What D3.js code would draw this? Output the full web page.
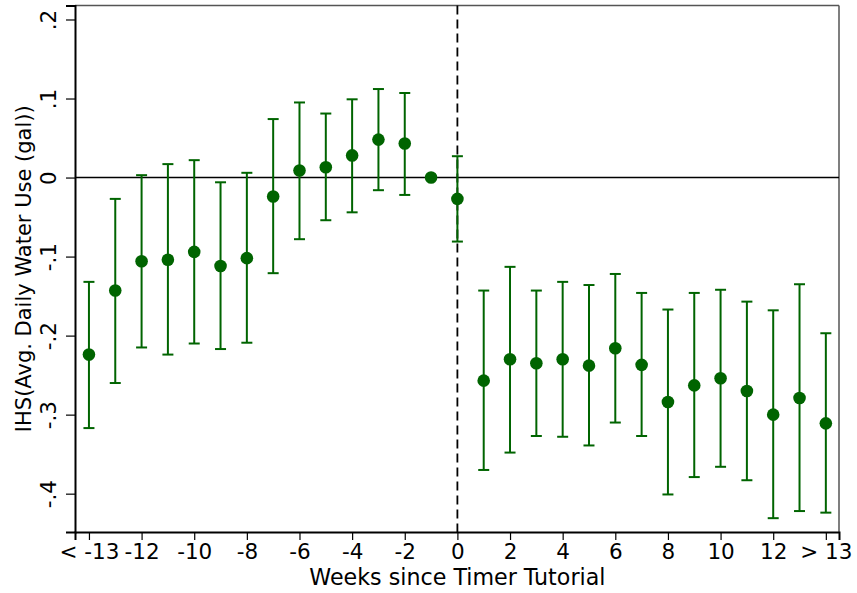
<!DOCTYPE html>
<html>
<head>
<meta charset="utf-8">
<script src="https://cdn.jsdelivr.net/npm/d3@7"></script>
<style>
	body { margin: 0; background: #fff; }
	text { font-family: "DejaVu Sans", sans-serif; fill: #000; }
</style>
</head>
<body>
<div id="chart"></div>
<script>
// event-study estimates
const weeks = [-14, -13, -12, -11, -10, -9, -8, -7, -6, -5, -4, -3, -2, -1, 0,
	1, 2, 3, 4, 5, 6, 7, 8, 9, 10, 11, 12, 13, 14];
const estimates = [-0.224, -0.143, -0.106, -0.104, -0.094, -0.112, -0.102, -0.024, 0.009, 0.013, 0.028, 0.048, 0.043, 0, -0.027,
	-0.257, -0.230, -0.235, -0.230, -0.238, -0.216, -0.237, -0.284, -0.263, -0.254, -0.270, -0.300, -0.279, -0.311];
const ciHigh = [-0.132, -0.027, 0.003, 0.017, 0.022, -0.006, 0.006, 0.074, 0.095, 0.081, 0.099, 0.112, 0.107, null, 0.027,
	-0.143, -0.113, -0.143, -0.132, -0.136, -0.122, -0.146, -0.167, -0.146, -0.142, -0.157, -0.168, -0.135, -0.197];
const ciLow = [-0.317, -0.260, -0.215, -0.224, -0.210, -0.217, -0.209, -0.121, -0.078, -0.054, -0.044, -0.016, -0.022, null, -0.081,
	-0.370, -0.348, -0.327, -0.328, -0.339, -0.310, -0.327, -0.401, -0.379, -0.366, -0.383, -0.431, -0.422, -0.424];

const xTicks = [-14, -12, -10, -8, -6, -4, -2, 0, 2, 4, 6, 8, 10, 12, 14];
const xTickLabels = ['< -13', '-12', '-10', '-8', '-6', '-4', '-2', '0', '2', '4', '6', '8', '10', '12', '> 13'];
const yTicks = [0.2, 0.1, 0, -0.1, -0.2, -0.3, -0.4];
const yTickLabels = ['.2', '.1', '0', '-.1', '-.2', '-.3', '-.4'];

const width = 857, height = 593;
const margin = {top: 5.5, right: 18, bottom: 61, left: 75};
const plotWidth = width - margin.left - margin.right;
const plotHeight = height - margin.top - margin.bottom;
const green = '#006400';
const tickFont = 21.5;
const titleFont = 22.2;

const svg = d3.select('#chart').append('svg')
	.attr('width', width)
	.attr('height', height);

const g = svg.append('g')
	.attr('transform', `translate(${margin.left}, ${margin.top})`);

const x = d3.scaleLinear().domain([-14.53, 14.5]).range([0, plotWidth]);
const y = d3.scaleLinear().domain([0.2177, -0.4485]).range([0, plotHeight]);

// frame (top/right lighter)
g.append('line')
	.attr('x1', 0).attr('x2', plotWidth).attr('y1', 0).attr('y2', 0)
	.attr('stroke', '#555').attr('stroke-width', 1.5);
g.append('line')
	.attr('x1', plotWidth).attr('x2', plotWidth).attr('y1', 0).attr('y2', plotHeight)
	.attr('stroke', '#555').attr('stroke-width', 1.5);

// reference lines
g.append('line')
	.attr('x1', 0).attr('x2', plotWidth)
	.attr('y1', y(0)).attr('y2', y(0))
	.attr('stroke', '#000').attr('stroke-width', 1.6);
g.append('line')
	.attr('x1', x(0)).attr('x2', x(0))
	.attr('y1', 0).attr('y2', plotHeight)
	.attr('stroke', '#000').attr('stroke-width', 1.8)
	.attr('stroke-dasharray', '9,5');

// axes
const xAxis = d3.axisBottom(x)
	.tickValues(xTicks)
	.tickFormat((d, i) => xTickLabels[i])
	.tickSizeOuter(0)
	.tickSize(8)
	.tickPadding(4);
const xg = g.append('g')
	.attr('transform', `translate(0, ${plotHeight})`)
	.call(xAxis);
xg.select('.domain').attr('stroke', '#000').attr('stroke-width', 2);
xg.selectAll('.tick line').attr('stroke-width', 1.2);
xg.selectAll('text').style('font-size', tickFont + 'px').style('font-family', '"DejaVu Sans", sans-serif');

const yAxis = d3.axisLeft(y)
	.tickValues(yTicks)
	.tickFormat((d, i) => yTickLabels[i])
	.tickSizeOuter(0)
	.tickSize(9);
const yg = g.append('g').call(yAxis);
yg.select('.domain').attr('stroke', '#000').attr('stroke-width', 2);
yg.selectAll('.tick line').attr('stroke-width', 1.2);
yg.selectAll('text')
	.attr('x', null).attr('dy', null)
	.attr('transform', 'translate(-19.5, 0) rotate(-90)')
	.style('text-anchor', 'middle')
	.style('font-size', tickFont + 'px')
	.style('font-family', '"DejaVu Sans", sans-serif');

// axis titles
svg.append('text')
	.attr('x', margin.left + x(0))
	.attr('y', 585)
	.style('text-anchor', 'middle')
	.style('font-size', titleFont + 'px')
	.text('Weeks since Timer Tutorial');

svg.append('text')
	.attr('transform', `translate(31, ${margin.top + plotHeight / 2}) rotate(-90)`)
	.style('text-anchor', 'middle')
	.style('font-size', '21px')
	.text('IHS(Avg. Daily Water Use (gal))');

// confidence intervals
const data = weeks.map((w, i) => ({week: w, est: estimates[i], lo: ciLow[i], hi: ciHigh[i]}));
const withCI = data.filter(d => d.lo !== null);
const capHalf = 5.5;

const bars = g.append('g')
	.attr('stroke', green)
	.attr('stroke-width', 2);
bars.selectAll('.ci')
	.data(withCI)
	.enter()
	.append('line')
	.attr('x1', d => x(d.week)).attr('x2', d => x(d.week))
	.attr('y1', d => y(d.hi)).attr('y2', d => y(d.lo));
bars.selectAll('.capHi')
	.data(withCI)
	.enter()
	.append('line')
	.attr('x1', d => x(d.week) - capHalf).attr('x2', d => x(d.week) + capHalf)
	.attr('y1', d => y(d.hi)).attr('y2', d => y(d.hi));
bars.selectAll('.capLo')
	.data(withCI)
	.enter()
	.append('line')
	.attr('x1', d => x(d.week) - capHalf).attr('x2', d => x(d.week) + capHalf)
	.attr('y1', d => y(d.lo)).attr('y2', d => y(d.lo));

// point estimates
g.append('g').selectAll('circle')
	.data(data)
	.enter()
	.append('circle')
	.attr('cx', d => x(d.week))
	.attr('cy', d => y(d.est))
	.attr('r', 6.3)
	.attr('fill', green);
</script>
</body>
</html>
